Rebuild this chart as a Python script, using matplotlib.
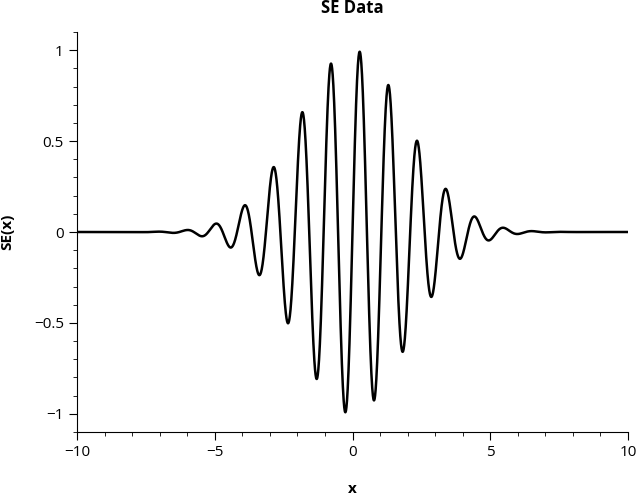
import numpy as np
import matplotlib
matplotlib.use("Agg")
import matplotlib.pyplot as plt
from matplotlib.ticker import MultipleLocator, FuncFormatter

plt.rcParams['font.family'] = ['Open Sans', 'DejaVu Sans']

# Curve parameters: peak ~1, frequency ~6 rad/unit, Gaussian envelope
amplitude = 1.0
omega = 6.0
envelope_width = 8.0
x_range = [-10, 10]
x = np.linspace(x_range[0], x_range[1], 4001)
y = amplitude * np.exp(-x**2 / envelope_width) * np.sin(omega * x)

fig = plt.figure(figsize=(6.4, 4.95), dpi=100)
ax = fig.add_axes([77/640, 1-432/495, (628-77)/640, (432-32)/495])
ax.plot(x, y, color='black', lw=1.8)
ax.set_xlim(-10, 10)
ax.set_ylim(-1.1, 1.1)
ax.spines['top'].set_visible(False)
ax.spines['right'].set_visible(False)
ax.xaxis.set_major_locator(MultipleLocator(5))
ax.xaxis.set_minor_locator(MultipleLocator(1))
ax.yaxis.set_major_locator(MultipleLocator(0.5))
ax.yaxis.set_minor_locator(MultipleLocator(0.1))
fmt = FuncFormatter(lambda v, p: ('%g' % v).replace('-', '\u2212'))
ax.xaxis.set_major_formatter(fmt)
ax.yaxis.set_major_formatter(fmt)
ax.tick_params(which='major', length=6, labelsize=11)
ax.tick_params(which='minor', length=3)
ax.set_title('SE Data', fontweight='bold', fontsize=12, pad=14)
ax.set_xlabel('x', fontweight='bold', fontsize=11, labelpad=16)
ax.set_ylabel('SE(x)', fontweight='bold', fontsize=11, labelpad=14)
fig.savefig('out.png', dpi=100)
